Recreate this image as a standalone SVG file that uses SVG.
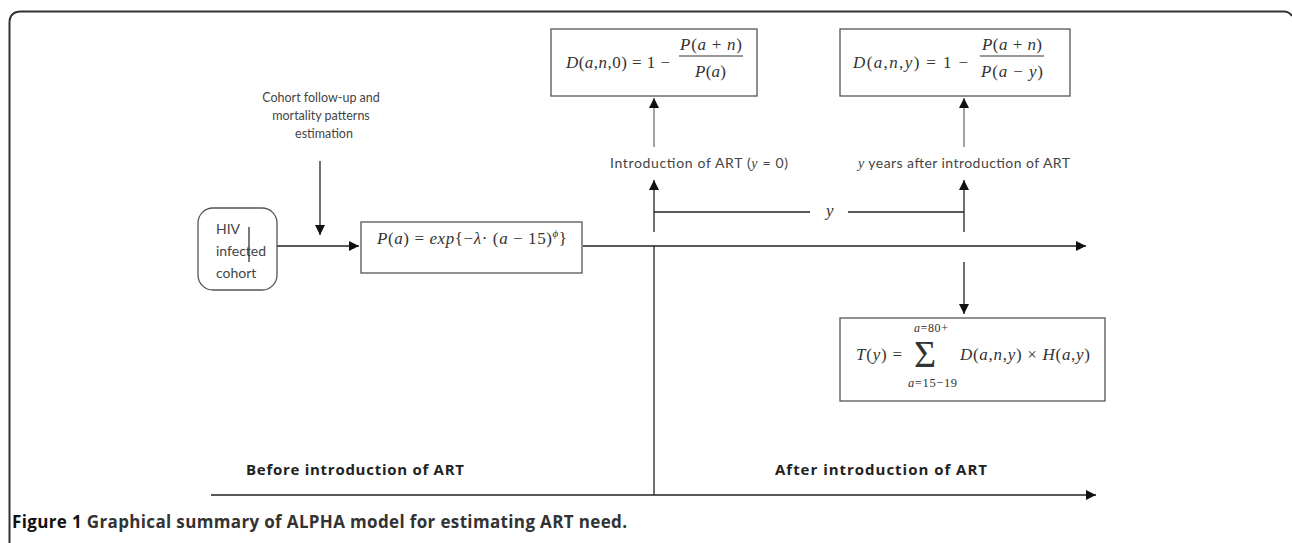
<svg xmlns="http://www.w3.org/2000/svg" width="1292" height="543" viewBox="0 0 1292 543">
<style>
.box{fill:#fff;stroke:#555;stroke-width:1.3}
.ln{stroke:#222;stroke-width:1.3;fill:none}
.lg{stroke:#666;stroke-width:1.2;fill:none}
.m{font-family:"Liberation Serif","DejaVu Serif",serif;font-size:17px;fill:#333}
.i{font-style:italic}
.s{font-family:Lato,"Open Sans","Liberation Sans",sans-serif;font-size:14px;fill:#444}
.c{font-size:12.5px}
.b{font-family:"Open Sans","Liberation Sans",sans-serif;font-size:15px;font-weight:bold;fill:#222}
.cap{font-family:"Open Sans","Liberation Sans",sans-serif;font-size:17px;font-weight:bold;fill:#333}
</style>
<defs>
<marker id="ah" viewBox="0 0 10 10" refX="10" refY="5" markerWidth="10" markerHeight="10" markerUnits="userSpaceOnUse" orient="auto">
<path d="M0,0 L10,5 L0,10 z" fill="#111"/>
</marker>
</defs>
<rect width="1292" height="543" fill="#fff"/>
<path d="M9.5 543 L9.5 23 Q9.5 11.5 21 11.5 L1284 11.5 Q1289 11.5 1292 16" fill="none" stroke="#333" stroke-width="2"/>

<g id="connectors">
<line class="lg" x1="654" y1="147" x2="654" y2="98" marker-end="url(#ah)"/>
<line class="lg" x1="964" y1="147" x2="964" y2="98" marker-end="url(#ah)"/>
<line class="ln" x1="654" y1="232" x2="654" y2="180" marker-end="url(#ah)"/>
<line class="ln" x1="964" y1="232" x2="964" y2="180" marker-end="url(#ah)"/>
<line class="ln" x1="654" y1="212" x2="810" y2="212"/>
<line class="ln" x1="848" y1="212" x2="964" y2="212"/>
<line class="ln" x1="320" y1="161" x2="320" y2="235" marker-end="url(#ah)"/>
<line class="ln" x1="277" y1="246" x2="359" y2="246" marker-end="url(#ah)"/>
<line class="ln" x1="583" y1="246" x2="1086" y2="246" marker-end="url(#ah)"/>
<line class="ln" x1="964" y1="262" x2="964" y2="314" marker-end="url(#ah)"/>
<line class="ln" x1="654" y1="246" x2="654" y2="495"/>
<line class="ln" x1="211" y1="495" x2="1096" y2="495" marker-end="url(#ah)"/>
</g>

<g id="node-d0">
<rect class="box" x="551" y="29" width="206" height="67"/>
<text class="m" x="566" y="68" textLength="104"><tspan class="i">D</tspan>(<tspan class="i">a</tspan>,<tspan class="i">n</tspan>,0) = 1 −</text>
<text class="m" x="680" y="50" textLength="62"><tspan class="i">P</tspan>(<tspan class="i">a</tspan> + <tspan class="i">n</tspan>)</text>
<line x1="679" y1="56" x2="743" y2="56" stroke="#333" stroke-width="1"/>
<text class="m" x="695" y="77" textLength="31"><tspan class="i">P</tspan>(<tspan class="i">a</tspan>)</text>
</g>

<g id="node-dy">
<rect class="box" x="840" y="29" width="230" height="67"/>
<text class="m" x="853" y="68" textLength="115"><tspan class="i">D</tspan>(<tspan class="i">a</tspan>,<tspan class="i">n</tspan>,<tspan class="i">y</tspan>) = 1 −</text>
<text class="m" x="982" y="50" textLength="60"><tspan class="i">P</tspan>(<tspan class="i">a</tspan> + <tspan class="i">n</tspan>)</text>
<line x1="980" y1="56" x2="1044" y2="56" stroke="#333" stroke-width="1"/>
<text class="m" x="981" y="77" textLength="62"><tspan class="i">P</tspan>(<tspan class="i">a</tspan> − <tspan class="i">y</tspan>)</text>
</g>

<g id="label-intro">
<text class="s" x="610" y="168" textLength="178">Introduction of ART (<tspan class="i" font-family="Liberation Serif">y</tspan> = 0)</text>
</g>
<g id="label-yyears">
<text class="s" x="858" y="168" textLength="212"><tspan class="i" font-family="Liberation Serif">y</tspan> years after introduction of ART</text>
</g>
<g id="label-y">
<text class="m" x="826" y="216"><tspan class="i">y</tspan></text>
</g>

<g id="label-cohort">
<text class="s c" x="321" y="102" text-anchor="middle">Cohort follow-up and</text>
<text class="s c" x="321" y="120" text-anchor="middle">mortality patterns</text>
<text class="s c" x="324" y="138" text-anchor="middle">estimation</text>
</g>

<g id="node-hiv">
<rect class="box" x="198" y="208" width="79" height="82" rx="15"/>
<text class="s" x="216" y="234">HIV</text>
<text class="s" x="216" y="256">infected</text>
<text class="s" x="216" y="278">cohort</text>
<line x1="249" y1="227" x2="249" y2="262" stroke="#333" stroke-width="1.3"/>
</g>

<g id="node-pa">
<rect class="box" x="361" y="222" width="221" height="51"/>
<text class="m" x="377" y="244" textLength="190"><tspan class="i">P</tspan>(<tspan class="i">a</tspan>) = <tspan class="i">exp</tspan>{−<tspan class="i">λ</tspan>· (<tspan class="i">a</tspan> − 15)<tspan class="i" font-size="11" dy="-7">ϕ</tspan><tspan dy="7">}</tspan></text>
</g>

<g id="node-ty">
<rect class="box" x="840" y="318" width="265" height="83"/>
<text class="m" x="856" y="360" textLength="46"><tspan class="i">T</tspan>(<tspan class="i">y</tspan>) =</text>
<text class="m" x="914" y="367" style="font-size:38px">Σ</text>
<text class="m" x="914" y="332" style="font-size:12px" textLength="34"><tspan class="i">a</tspan>=80+</text>
<text class="m" x="908" y="387" style="font-size:12.5px" textLength="49"><tspan class="i">a</tspan>=15−19</text>
<text class="m" x="960" y="360" textLength="130"><tspan class="i">D</tspan>(<tspan class="i">a</tspan>,<tspan class="i">n</tspan>,<tspan class="i">y</tspan>) × <tspan class="i">H</tspan>(<tspan class="i">a</tspan>,<tspan class="i">y</tspan>)</text>
</g>

<g id="label-before">
<text class="b" x="246" y="475" textLength="218">Before introduction of ART</text>
</g>
<g id="label-after">
<text class="b" x="775" y="475" textLength="212">After introduction of ART</text>
</g>

<text class="cap" x="12" y="528" textLength="615"><tspan fill="#111">Figure 1</tspan> Graphical summary of ALPHA model for estimating ART need.</text>
</svg>
